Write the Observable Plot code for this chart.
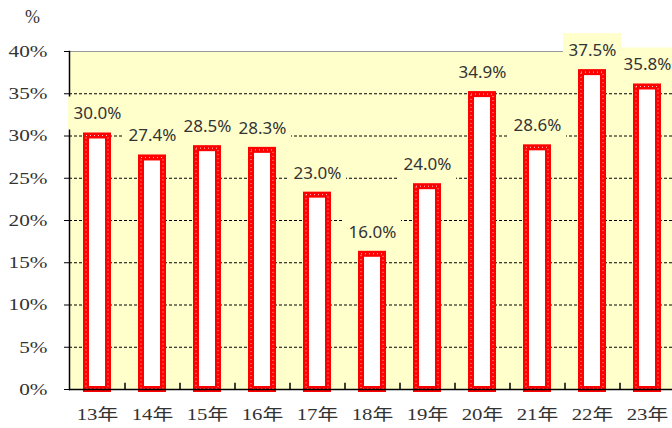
<!DOCTYPE html>
<html><head><meta charset="utf-8">
<script src="https://cdn.jsdelivr.net/npm/d3@7"></script>
<script src="https://cdn.jsdelivr.net/npm/@observablehq/plot@0.6"></script>
<style>
body{margin:0;background:#fff;} svg{display:block;}
g[aria-label="y-axis tick label"] text, g[aria-label="x-axis tick label"] text, g.pct text {
  font-family: "Liberation Serif", "DejaVu Serif", "Noto Sans CJK JP", serif !important;
}
</style>
</head><body><div id="chart"></div>
<script>
const categories = ["13年","14年","15年","16年","17年","18年","19年","20年","21年","22年","23年"];
const values = [30.0, 27.4, 28.5, 28.3, 23.0, 16.0, 24.0, 34.9, 28.6, 37.5, 35.8];
const yTicks = [0, 5, 10, 15, 20, 25, 30, 35, 40];
const gridTicks = [5, 10, 15, 20, 25, 30, 35];

const data = categories.map((c, i) => ({c, v: values[i]}));
const bg = "#FFFFCC";
const serif = "Liberation Serif, DejaVu Serif, Noto Sans CJK JP, serif";
const sans = "Noto Sans, Open Sans, sans-serif";
const xRange = [69, 674];
const step = (xRange[1] - xRange[0]) / categories.length;

const chart = Plot.plot({
  width: 672,
  height: 428,
  marginLeft: 69,
  marginRight: 0,
  marginTop: 51,
  marginBottom: 39,
  style: {background: "#fff"},
  x: {domain: categories, range: xRange, paddingInner: 0.6, paddingOuter: 0.3},
  y: {domain: [0, 40], ticks: yTicks, label: null},
  marks: [
    Plot.frame({fill: bg, stroke: null}),
    Plot.ruleY(gridTicks, {stroke: "#000", strokeWidth: 1, strokeDasharray: "3,2"}),
    Plot.ruleY([40], {stroke: "#999", strokeWidth: 1}),
    Plot.frame({anchor: "left", stroke: "#000", strokeWidth: 1.5}),
    Plot.barY(data, {x: "c", y1: "v", y2: "v", fill: bg, insetTop: -39, insetBottom: 6, insetLeft: -18, insetRight: -18}),
    Plot.barY(data, {x: "c", y: "v", fill: "white", stroke: "#FF0000", strokeWidth: 6}),
    Plot.barY(data, {x: "c", y: "v", fill: "none", stroke: "#fff", strokeWidth: 1, strokeDasharray: "1,3", strokeOpacity: 0.8}),
    Plot.ruleY([0], {stroke: "#000", strokeWidth: 1.5}),
    Plot.ruleX(categories.slice(1), {x: d => d, y1: 0, y2: 0.75, dx: -step / 2, stroke: "#000", strokeWidth: 1.5}),
    Plot.axisY({ticks: yTicks, tickFormat: d => d + "%", tickSize: 5, tickPadding: 17, fontSize: 17, fontFamily: serif, fill: "#333", stroke: "#000", label: null}),
    Plot.axisX({tickSize: 0, tickPadding: 19, fontSize: 16, fontFamily: serif, fill: "#333", label: null}),
    Plot.text(data, {x: "c", y: "v", text: d => d.v.toFixed(1) + "%", dy: -22, fontSize: 17, fontFamily: sans, fill: "#333"}),
    Plot.text(["%"], {frameAnchor: "top-left", textAnchor: "middle", lineAnchor: "middle", dx: -37, dy: -34, fontSize: 18, fontFamily: serif, fill: "#333", className: "pct"})
  ]
});
document.getElementById("chart").appendChild(chart);

function stretch(sel, k) {
  d3.select(chart).selectAll(sel).each(function() {
    const L = this.getComputedTextLength();
    this.setAttribute("textLength", L * k);
    this.setAttribute("lengthAdjust", "spacingAndGlyphs");
  });
}
stretch('g[aria-label="y-axis tick label"] text', 1.25);
stretch('g[aria-label="x-axis tick label"] text', 1.3);
</script>
</body></html>
